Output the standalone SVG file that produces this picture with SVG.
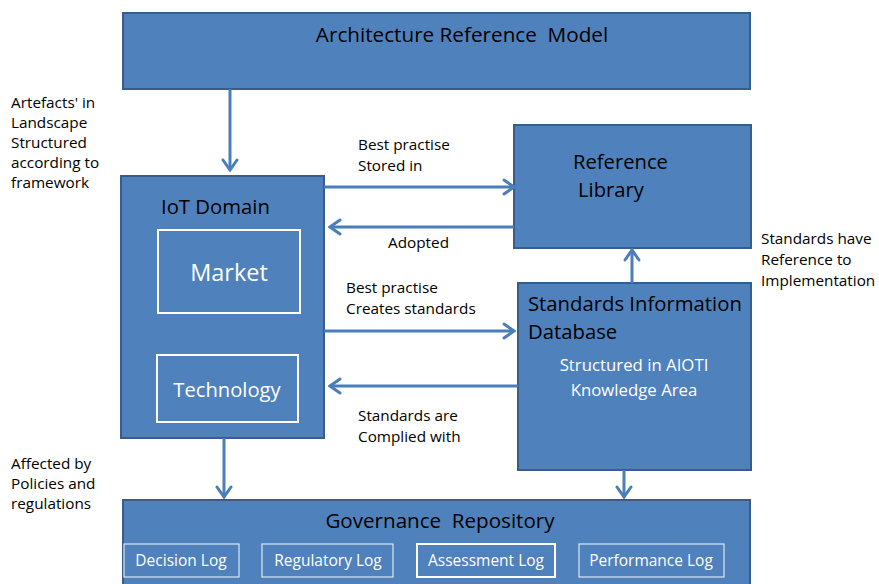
<svg xmlns="http://www.w3.org/2000/svg" width="879" height="584" viewBox="0 0 879 584">
<style>
.box{fill:#4F81BD;stroke:#385D8A;stroke-width:2}
.inner{fill:none;stroke:#FFFFFF;stroke-width:2}
.log{fill:none;stroke:#DCE6F2;stroke-width:1.2}
.t{font-family:"Open Sans","Liberation Sans",sans-serif;fill:#000}
.w{font-family:"Open Sans","Liberation Sans",sans-serif;fill:#FFFFFF}
.lbl{font-family:"Open Sans","Liberation Sans",sans-serif;font-size:15.3px;fill:#000}
.conn{stroke:#4A7EBB;stroke-width:3;fill:none;marker-end:url(#arr)}
</style>
<defs>
<marker id="arr" viewBox="-12 -9 14 18" markerWidth="14" markerHeight="18" refX="0" refY="0" orient="auto" markerUnits="userSpaceOnUse">
<path d="M-10,-7 L0,0 L-10,7" fill="none" stroke="#4A7EBB" stroke-width="3" stroke-linecap="round" stroke-linejoin="miter"/>
</marker>
</defs>
<rect width="879" height="584" fill="#FFFFFF"/>

<g id="arm">
<rect class="box" x="123" y="13" width="627" height="76"/>
<text class="t" x="462" y="42" font-size="20.7" text-anchor="middle" xml:space="preserve">Architecture Reference  Model</text>
</g>

<g id="iot">
<rect class="box" x="121" y="176" width="203" height="262"/>
<text class="t" x="161" y="214" font-size="20.3">IoT Domain</text>
<g id="market">
<rect class="inner" x="158" y="230" width="142" height="83"/>
<text class="w" x="229" y="281" font-size="23.5" text-anchor="middle">Market</text>
</g>
<g id="technology">
<rect class="inner" x="157" y="355" width="141" height="67"/>
<text class="w" x="227" y="397" font-size="20.2" text-anchor="middle">Technology</text>
</g>
</g>

<g id="reflib">
<rect class="box" x="514" y="125" width="237" height="123"/>
<text class="t" x="573" y="169" font-size="20.2">Reference</text>
<text class="t" x="578" y="197" font-size="20.2">Library</text>
</g>

<g id="sid">
<rect class="box" x="518" y="283" width="233" height="187"/>
<text class="t" x="528" y="311" font-size="20.3">Standards Information</text>
<text class="t" x="528" y="339" font-size="20.3">Database</text>
<text class="w" x="634" y="371" font-size="16.8" text-anchor="middle">Structured in AIOTI</text>
<text class="w" x="634" y="396" font-size="16.8" text-anchor="middle">Knowledge Area</text>
</g>

<g id="governance">
<rect class="box" x="123" y="500" width="627" height="95"/>
<text class="t" x="440" y="528" font-size="20.6" text-anchor="middle" xml:space="preserve">Governance  Repository</text>
<g id="decision-log">
<rect class="log" x="124" y="544" width="115" height="33"/>
<text class="w" x="181" y="566" font-size="15.5" text-anchor="middle">Decision Log</text>
</g>
<g id="regulatory-log">
<rect class="log" x="262" y="544" width="131" height="33"/>
<text class="w" x="328" y="566" font-size="15.5" text-anchor="middle">Regulatory Log</text>
</g>
<g id="assessment-log">
<rect class="inner" x="417" y="544" width="138" height="33" stroke-width="1.5"/>
<text class="w" x="486" y="566" font-size="15.5" text-anchor="middle">Assessment Log</text>
</g>
<g id="performance-log">
<rect class="log" x="579" y="544" width="145" height="33"/>
<text class="w" x="651" y="566" font-size="15.5" text-anchor="middle">Performance Log</text>
</g>
</g>

<g id="connectors">
<line class="conn" x1="230" y1="89" x2="230" y2="170"/>
<line class="conn" x1="324" y1="187" x2="514" y2="187"/>
<line class="conn" x1="514" y1="227" x2="330" y2="227"/>
<line class="conn" x1="324" y1="331" x2="514" y2="331"/>
<line class="conn" x1="518" y1="386" x2="330" y2="386"/>
<line class="conn" x1="632" y1="283" x2="632" y2="250"/>
<line class="conn" x1="224" y1="438" x2="224" y2="497"/>
<line class="conn" x1="624" y1="470" x2="624" y2="497"/>
</g>

<g id="labels">
<text class="lbl" x="358" y="150">Best practise</text>
<text class="lbl" x="358" y="171">Stored in</text>
<text class="lbl" x="388" y="248">Adopted</text>
<text class="lbl" x="346" y="293">Best practise</text>
<text class="lbl" x="346" y="314">Creates standards</text>
<text class="lbl" x="358" y="421">Standards are</text>
<text class="lbl" x="358" y="442">Complied with</text>
<text class="lbl" x="11" y="108">Artefacts' in</text>
<text class="lbl" x="11" y="128">Landscape</text>
<text class="lbl" x="11" y="148">Structured</text>
<text class="lbl" x="11" y="168">according to</text>
<text class="lbl" x="11" y="188">framework</text>
<text class="lbl" x="11" y="469">Affected by</text>
<text class="lbl" x="11" y="489">Policies and</text>
<text class="lbl" x="11" y="509">regulations</text>
<text class="lbl" x="761" y="244">Standards have</text>
<text class="lbl" x="761" y="265">Reference to</text>
<text class="lbl" x="761" y="286">Implementation</text>
</g>
</svg>
